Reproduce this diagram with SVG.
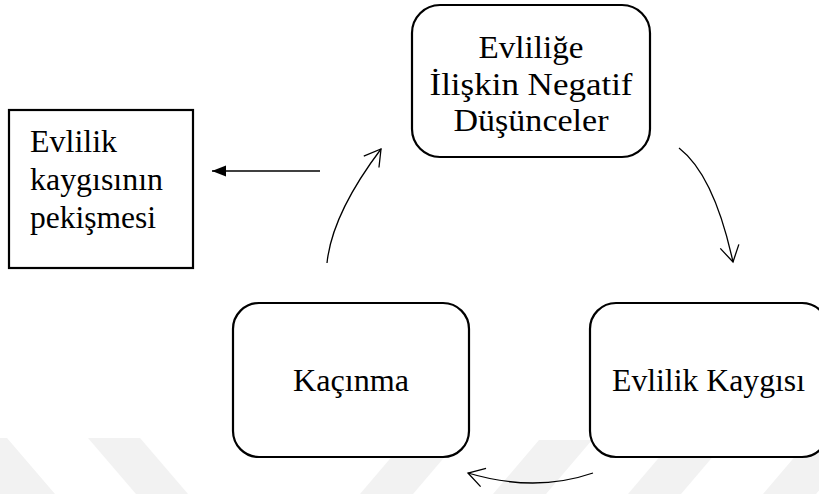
<svg xmlns="http://www.w3.org/2000/svg" width="819" height="494" viewBox="0 0 819 494">
<style>
.bg{fill:#ffffff}
.wm{fill:#f2f2f2}
.box{fill:#ffffff;stroke:#000000;stroke-width:2.2}
.t{font-family:"Liberation Serif","Times New Roman",serif;font-size:31px;fill:#000000}
.c{fill:none;stroke:#000000;stroke-width:1.3}
.s{fill:none;stroke:#000000;stroke-width:1.6}
</style>
<defs>
<marker id="open" markerUnits="userSpaceOnUse" viewBox="-22 -12 26 24" markerWidth="26" markerHeight="24" refX="0" refY="0" orient="auto">
<path d="M-16,-9.5 L0,0 L-16,9.5" fill="none" stroke="#000000" stroke-width="1.3"/>
</marker>
<marker id="solid" markerUnits="userSpaceOnUse" viewBox="-16 -7 18 14" markerWidth="18" markerHeight="14" refX="0" refY="0" orient="auto">
<path d="M-14,-5.5 L0,0 L-14,5.5 Z" fill="#000000"/>
</marker>
</defs>
<rect class="bg" x="0" y="0" width="819" height="494"/>
<g id="watermark">
<polygon class="wm" points="-48,438 7,438 55,494 0,494"/>
<polygon class="wm" points="88,438 140,438 188,494 136,494"/>
<polygon class="wm" points="406,440 459,440 413,494 360,494"/>
<polygon class="wm" points="539,440 592,440 546,494 493,494"/>
<polygon class="wm" points="674,440 727,440 681,494 628,494"/>
<polygon class="wm" points="809,440 862,440 816,494 763,494"/>
</g>
<g id="node-negatif">
<rect class="box" x="412" y="5" width="238" height="152" rx="28" ry="28"/>
<text class="t" x="531" y="58" text-anchor="middle" textLength="105" lengthAdjust="spacingAndGlyphs">Evliliğe</text>
<text class="t" x="531" y="95" text-anchor="middle" textLength="203" lengthAdjust="spacingAndGlyphs">İlişkin Negatif</text>
<text class="t" x="531" y="131" text-anchor="middle" textLength="155" lengthAdjust="spacingAndGlyphs">Düşünceler</text>
</g>
<g id="node-pekisme">
<rect class="box" x="9" y="110" width="184" height="158"/>
<text class="t" x="30" y="152" textLength="87" lengthAdjust="spacingAndGlyphs">Evlilik</text>
<text class="t" x="30" y="190" textLength="133" lengthAdjust="spacingAndGlyphs">kaygısının</text>
<text class="t" x="30" y="228" textLength="126" lengthAdjust="spacingAndGlyphs">pekişmesi</text>
</g>
<g id="node-kacinma">
<rect class="box" x="233" y="303" width="236" height="154" rx="26" ry="26"/>
<text class="t" x="351" y="391" text-anchor="middle" textLength="116" lengthAdjust="spacingAndGlyphs">Kaçınma</text>
</g>
<g id="node-kaygi">
<rect class="box" x="590" y="303" width="238" height="154" rx="26" ry="26"/>
<text class="t" x="612" y="391" textLength="193" lengthAdjust="spacingAndGlyphs">Evlilik Kaygısı</text>
</g>
<g id="connectors">
<path class="c" d="M679,148 Q714,175 733,262" marker-end="url(#open)"/>
<path class="c" d="M593,473 Q535,493 468,473" marker-end="url(#open)"/>
<path class="c" d="M327,263 Q332,214 381,149" marker-end="url(#open)"/>
<path class="s" d="M320,171 L212,171" marker-end="url(#solid)"/>
</g>
</svg>
